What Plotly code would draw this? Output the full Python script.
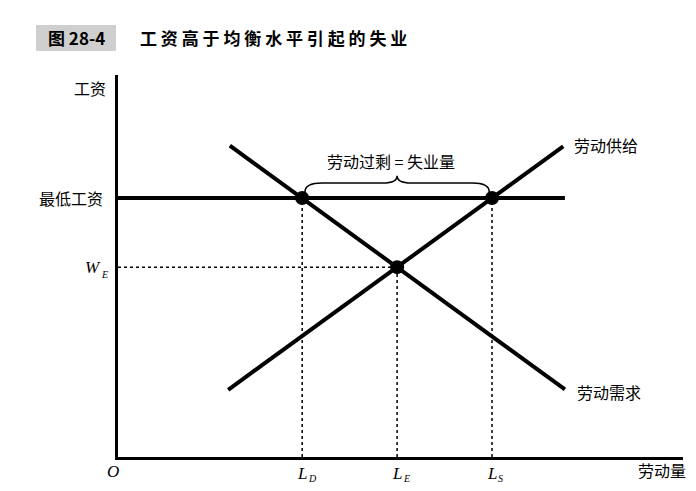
import plotly.graph_objects as go

# ---- data (economic units) ----
demand_x = [1.98, 7.91]
demand_y = [8.15, 1.77]
supply_x = [1.95, 7.88]
supply_y = [1.76, 8.13]
min_wage = 6.78
min_wage_end = 7.91
L_D, L_E, L_S = 3.26, 4.94, 6.62
W_E = 4.97
x_range = [0, 10]
y_range = [0, 10]
qty_labels = [("L", "D", L_D), ("L", "E", L_E), ("L", "S", L_S)]

CJK = "Noto Sans CJK SC"
SERIF = "Liberation Serif"

# page body has an 8px margin; figure is sized so the plot lands where the reference's does
OFF = 8
W, H = 696 - OFF, 491 - OFF
ML, MR, MT, MB = 118 - OFF, 13, 75 - OFF, 34
PW, PH = W - ML - MR, H - MT - MB

fig = go.Figure()

# dotted guides
fig.add_trace(go.Scatter(x=[0, L_E], y=[W_E, W_E], mode="lines",
                         line=dict(color="black", width=1.5, dash="dot"), hoverinfo="skip"))
for lx in [L_D, L_E, L_S]:
    wy = W_E if lx == L_E else min_wage
    fig.add_trace(go.Scatter(x=[lx, lx], y=[0, wy], mode="lines",
                             line=dict(color="black", width=1.5, dash="dot"), hoverinfo="skip"))

# min wage line
fig.add_trace(go.Scatter(x=[0, min_wage_end], y=[min_wage, min_wage], mode="lines",
                         line=dict(color="black", width=4), hoverinfo="skip"))
# demand & supply
fig.add_trace(go.Scatter(x=demand_x, y=demand_y, mode="lines",
                         line=dict(color="black", width=4), hoverinfo="skip"))
fig.add_trace(go.Scatter(x=supply_x, y=supply_y, mode="lines",
                         line=dict(color="black", width=4), hoverinfo="skip"))
# points
fig.add_trace(go.Scatter(x=[L_D, L_E, L_S], y=[min_wage, W_E, min_wage], mode="markers",
                         marker=dict(color="black", size=14), hoverinfo="skip"))

# curly brace above the surplus
yb0, yb1, yb2 = 6.94, 7.17, 7.36
xm = (L_D + L_S) / 2
bx0, bx1 = L_D + 0.05, L_S - 0.05
path = (f"M {bx0},{yb0} Q {bx0},{yb1} {bx0+0.3},{yb1} "
        f"L {xm-0.25},{yb1} Q {xm},{yb1} {xm},{yb2} "
        f"Q {xm},{yb1} {xm+0.25},{yb1} "
        f"L {bx1-0.3},{yb1} Q {bx1},{yb1} {bx1},{yb0}")
fig.add_shape(type="path", path=path, xref="x", yref="y",
              line=dict(color="black", width=1.5))

ann = []
def a(x, y, text, size=16, font=CJK, xanchor="center", yanchor="middle",
      xshift=0, yshift=0, style="normal", weight="normal"):
    # positions given in data units; placed in paper coords so they may sit outside the axes
    ann.append(dict(x=(x - x_range[0]) / (x_range[1] - x_range[0]),
                    y=(y - y_range[0]) / (y_range[1] - y_range[0]),
                    text=text, showarrow=False, xref="paper", yref="paper",
                    xanchor=xanchor, yanchor=yanchor, xshift=xshift, yshift=yshift,
                    font=dict(family=font, size=size, color="black", style=style, weight=weight)))

a(xm - 0.1, 7.75, "劳动过剩 = 失业量", size=16)
a(8.04, 8.17, "劳动供给", xanchor="left")
a(8.09, 1.70, "劳动需求", xanchor="left")
a(-0.5, 9.66, "工资")
a(-0.23, min_wage, "最低工资", xanchor="right")

# W_E on the wage axis
a(0, W_E, "W", font=SERIF, size=17, style="italic", xanchor="right", xshift=-15)
a(0, W_E, "E", font=SERIF, size=10, style="italic", xanchor="left", xshift=-19, yshift=-7)
# origin and quantity labels
a(0, 0, "O", font=SERIF, size=17, style="italic", xshift=-5, yshift=-14)
for main, sub, lx in qty_labels:
    a(lx, 0, main, font=SERIF, size=17, style="italic", yshift=-16)
    a(lx, 0, sub, font=SERIF, size=10, style="italic", xanchor="left", xshift=4, yshift=-21)
a(9.63, -0.34, "劳动量")

# title (pixel positions of the reference page converted to paper coords)
def px(xp):
    return (xp - 118) / PW
def py(yp):
    return (457 - yp) / PH

fig.add_shape(type="rect", xref="paper", yref="paper",
              x0=px(36), x1=px(116), y0=py(51), y1=py(25),
              fillcolor="#cfcfcf", line=dict(width=0), layer="below")
ann.append(dict(x=px(76), y=py(38), xref="paper", yref="paper",
                text="图 28-4", showarrow=False, xanchor="center", yanchor="middle",
                font=dict(family=CJK, size=17, color="black", weight="bold")))
ann.append(dict(x=px(138), y=py(38), xref="paper", yref="paper",
                text=" ".join("工资高于均衡水平引起的失业"), showarrow=False,
                xanchor="left", yanchor="middle",
                font=dict(family=CJK, size=17, color="black", weight="bold")))

fig.update_layout(
    width=W, height=H,
    margin=dict(l=ML, r=MR, t=MT, b=MB),
    paper_bgcolor="white", plot_bgcolor="white",
    showlegend=False,
    annotations=ann,
    xaxis=dict(range=x_range, showgrid=False, zeroline=False, showticklabels=False,
               ticks="", showline=True, linecolor="black", linewidth=3),
    yaxis=dict(range=y_range, showgrid=False, zeroline=False, showticklabels=False,
               ticks="", showline=True, linecolor="black", linewidth=3),
)

fig.write_html("out.html")
